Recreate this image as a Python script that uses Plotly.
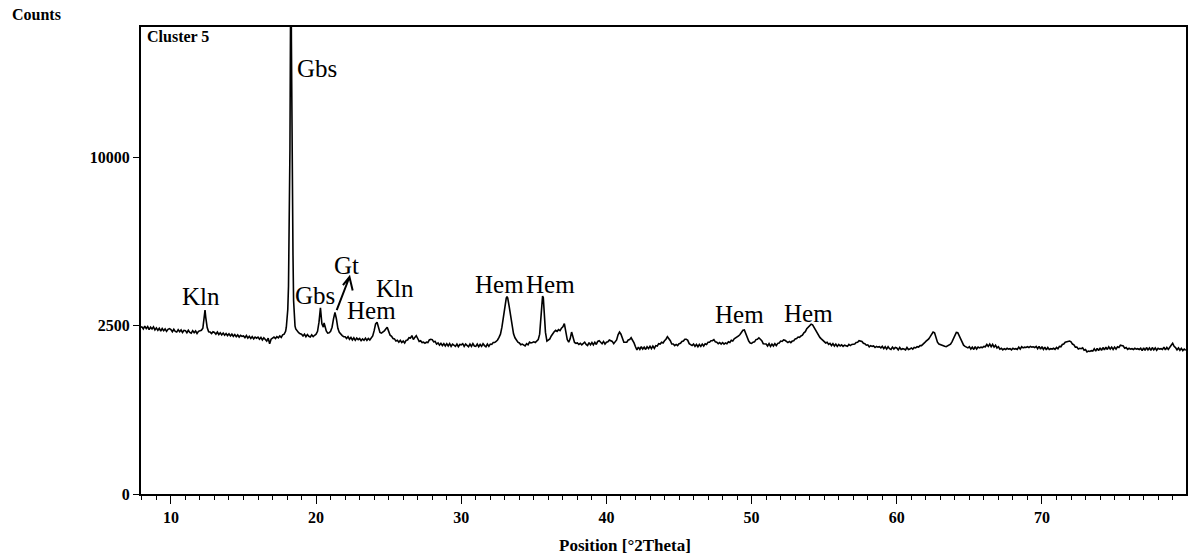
import numpy as np
import plotly.graph_objects as go

# Diffractogram, Cluster 5: position (deg 2Theta) and intensity (counts)
two_theta = [
    7.94,
    8.0, 8.1, 8.2, 8.3, 8.4, 8.5, 8.6, 8.7, 8.8, 8.9,
    9.0, 9.1, 9.2, 9.3, 9.4, 9.5, 9.6, 9.7, 9.8, 9.9,
    10.0, 10.1, 10.2, 10.3, 10.4, 10.5, 10.6, 10.7, 10.8, 10.9,
    11.0, 11.1, 11.2, 11.3, 11.4, 11.5, 11.6, 11.7, 11.8, 11.9,
    12.0, 12.1, 12.2, 12.3, 12.35, 12.4, 12.5, 12.6, 12.7, 12.8, 12.9,
    13.0, 13.1, 13.2, 13.3, 13.4, 13.5, 13.6, 13.7, 13.8, 13.9,
    14.0, 14.1, 14.2, 14.3, 14.4, 14.5, 14.6, 14.7, 14.8, 14.9,
    15.0, 15.1, 15.2, 15.3, 15.4, 15.5, 15.6, 15.7, 15.8, 15.9,
    16.0, 16.1, 16.2, 16.3, 16.4, 16.5, 16.6, 16.7, 16.8, 16.9,
    17.0, 17.1, 17.2, 17.3, 17.4, 17.5, 17.6, 17.7, 17.8, 17.9,
    17.95, 18.0, 18.05, 18.1, 18.13, 18.16, 18.2, 18.24, 18.27, 18.3,
    18.34, 18.38, 18.41, 18.45, 18.5, 18.55, 18.6, 18.7, 18.8, 18.9,
    19.0, 19.1, 19.2, 19.3, 19.4, 19.5, 19.6, 19.7, 19.8, 19.9,
    20.0, 20.1, 20.2, 20.3, 20.35, 20.4, 20.5, 20.55, 20.6, 20.7, 20.8, 20.9,
    21.0, 21.1, 21.2, 21.3, 21.4, 21.5, 21.6, 21.7, 21.8, 21.9,
    22.0, 22.1, 22.2, 22.3, 22.4, 22.5, 22.6, 22.7, 22.8, 22.9,
    23.0, 23.1, 23.2, 23.3, 23.4, 23.5, 23.6, 23.7, 23.8, 23.9,
    24.0, 24.1, 24.2, 24.3, 24.4, 24.5, 24.6, 24.7, 24.8, 24.9,
    25.0, 25.1, 25.2, 25.3, 25.4, 25.5, 25.6, 25.7, 25.8, 25.9,
    26.0, 26.1, 26.2, 26.3, 26.4, 26.5, 26.6, 26.7, 26.8, 26.9,
    27.0, 27.1, 27.2, 27.3, 27.4, 27.5, 27.6, 27.7, 27.8, 27.9,
    28.0, 28.1, 28.2, 28.3, 28.4, 28.5, 28.6, 28.7, 28.8, 28.9,
    29.0, 29.1, 29.2, 29.3, 29.4, 29.5, 29.6, 29.7, 29.8, 29.9,
    30.0, 30.1, 30.2, 30.3, 30.4, 30.5, 30.6, 30.7, 30.8, 30.9,
    31.0, 31.1, 31.2, 31.3, 31.4, 31.5, 31.6, 31.7, 31.8, 31.9,
    32.0, 32.1, 32.2, 32.3, 32.4, 32.5, 32.6, 32.7, 32.8, 32.9,
    33.0, 33.1, 33.15, 33.2, 33.3, 33.4, 33.5, 33.6, 33.7, 33.8, 33.9,
    34.0, 34.1, 34.2, 34.3, 34.4, 34.5, 34.6, 34.7, 34.8, 34.9,
    35.0, 35.1, 35.2, 35.3, 35.4, 35.5, 35.6, 35.65, 35.7, 35.8, 35.9,
    36.0, 36.1, 36.2, 36.3, 36.4, 36.5, 36.6, 36.7, 36.8, 36.9,
    37.0, 37.1, 37.2, 37.3, 37.4, 37.5, 37.6, 37.7, 37.8, 37.9,
    38.0, 38.1, 38.2, 38.3, 38.4, 38.5, 38.6, 38.7, 38.8, 38.9,
    39.0, 39.1, 39.2, 39.3, 39.4, 39.5, 39.6, 39.7, 39.8, 39.9,
    40.0, 40.1, 40.2, 40.3, 40.4, 40.5, 40.6, 40.7, 40.8, 40.9,
    41.0, 41.1, 41.2, 41.3, 41.4, 41.5, 41.6, 41.7, 41.8, 41.9,
    42.0, 42.1, 42.2, 42.3, 42.4, 42.5, 42.6, 42.7, 42.8, 42.9,
    43.0, 43.1, 43.2, 43.3, 43.4, 43.5, 43.6, 43.7, 43.8, 43.9,
    44.0, 44.1, 44.2, 44.3, 44.4, 44.5, 44.6, 44.7, 44.8, 44.9,
    45.0, 45.1, 45.2, 45.3, 45.4, 45.5, 45.6, 45.7, 45.8, 45.9,
    46.0, 46.1, 46.2, 46.3, 46.4, 46.5, 46.6, 46.7, 46.8, 46.9,
    47.0, 47.1, 47.2, 47.3, 47.4, 47.5, 47.6, 47.7, 47.8, 47.9,
    48.0, 48.1, 48.2, 48.3, 48.4, 48.5, 48.6, 48.7, 48.8, 48.9,
    49.0, 49.1, 49.2, 49.3, 49.4, 49.5, 49.6, 49.7, 49.8, 49.9,
    50.0, 50.1, 50.2, 50.3, 50.4, 50.5, 50.6, 50.7, 50.8, 50.9,
    51.0, 51.1, 51.2, 51.3, 51.4, 51.5, 51.6, 51.7, 51.8, 51.9,
    52.0, 52.1, 52.2, 52.3, 52.4, 52.5, 52.6, 52.7, 52.8, 52.9,
    53.0, 53.1, 53.2, 53.3, 53.4, 53.5, 53.6, 53.7, 53.8, 53.9,
    54.0, 54.1, 54.2, 54.3, 54.4, 54.5, 54.6, 54.7, 54.8, 54.9,
    55.0, 55.1, 55.2, 55.3, 55.4, 55.5, 55.6, 55.7, 55.8, 55.9,
    56.0, 56.1, 56.2, 56.3, 56.4, 56.5, 56.6, 56.7, 56.8, 56.9,
    57.0, 57.1, 57.2, 57.3, 57.4, 57.5, 57.6, 57.7, 57.8, 57.9,
    58.0, 58.1, 58.2, 58.3, 58.4, 58.5, 58.6, 58.7, 58.8, 58.9,
    59.0, 59.1, 59.2, 59.3, 59.4, 59.5, 59.6, 59.7, 59.8, 59.9,
    60.0, 60.1, 60.2, 60.3, 60.4, 60.5, 60.6, 60.7, 60.8, 60.9,
    61.0, 61.1, 61.2, 61.3, 61.4, 61.5, 61.6, 61.7, 61.8, 61.9,
    62.0, 62.1, 62.2, 62.3, 62.4, 62.5, 62.6, 62.7, 62.8, 62.9,
    63.0, 63.1, 63.2, 63.3, 63.4, 63.5, 63.6, 63.7, 63.8, 63.9,
    64.0, 64.1, 64.2, 64.3, 64.4, 64.5, 64.6, 64.7, 64.8, 64.9,
    65.0, 65.1, 65.2, 65.3, 65.4, 65.5, 65.6, 65.7, 65.8, 65.9,
    66.0, 66.1, 66.2, 66.3, 66.4, 66.5, 66.6, 66.7, 66.8, 66.9,
    67.0, 67.1, 67.2, 67.3, 67.4, 67.5, 67.6, 67.7, 67.8, 67.9,
    68.0, 68.1, 68.2, 68.3, 68.4, 68.5, 68.6, 68.7, 68.8, 68.9,
    69.0, 69.1, 69.2, 69.3, 69.4, 69.5, 69.6, 69.7, 69.8, 69.9,
    70.0, 70.1, 70.2, 70.3, 70.4, 70.5, 70.6, 70.7, 70.8, 70.9,
    71.0, 71.1, 71.2, 71.3, 71.4, 71.5, 71.6, 71.7, 71.8, 71.9,
    72.0, 72.1, 72.2, 72.3, 72.4, 72.5, 72.6, 72.7, 72.8, 72.9,
    73.0, 73.1, 73.2, 73.3, 73.4, 73.5, 73.6, 73.7, 73.8, 73.9,
    74.0, 74.1, 74.2, 74.3, 74.4, 74.5, 74.6, 74.7, 74.8, 74.9,
    75.0, 75.1, 75.2, 75.3, 75.4, 75.5, 75.6, 75.7, 75.8, 75.9,
    76.0, 76.1, 76.2, 76.3, 76.4, 76.5, 76.6, 76.7, 76.8, 76.9,
    77.0, 77.1, 77.2, 77.3, 77.4, 77.5, 77.6, 77.7, 77.8, 77.9,
    78.0, 78.1, 78.2, 78.3, 78.4, 78.5, 78.6, 78.7, 78.8, 78.9,
    79.0, 79.1, 79.2, 79.3, 79.4, 79.5, 79.6, 79.7, 79.8, 79.9,
]

counts = [
    2450,
    2460, 2400, 2480, 2410, 2470, 2380, 2450, 2400, 2460, 2370,
    2430, 2360, 2420, 2340, 2410, 2350, 2400, 2330, 2390, 2410,
    2380, 2320, 2390, 2330, 2310, 2380, 2320, 2370, 2300, 2360,
    2350, 2290, 2360, 2300, 2280, 2350, 2290, 2340, 2270, 2330,
    2340, 2360, 2420, 2700, 2980, 2750, 2440, 2320, 2310, 2270, 2320,
    2300, 2250, 2310, 2240, 2290, 2230, 2280, 2220, 2270, 2210,
    2260, 2200, 2250, 2190, 2240, 2180, 2230, 2170, 2220, 2190,
    2200, 2150, 2210, 2140, 2190, 2130, 2180, 2120, 2170, 2140,
    2170, 2110, 2160, 2090, 2150, 2100, 2060, 2140, 1990, 2110,
    2140, 2170, 2130, 2180, 2150, 2200, 2160, 2230, 2250, 2330,
    2450, 2650, 3000, 3800, 5000, 7000, 10500, 20000, 26000, 18000,
    9000, 6800, 5000, 3300, 2650, 2480, 2400, 2330, 2290, 2260,
    2250, 2200, 2250, 2180, 2240, 2190, 2170, 2230, 2180, 2220,
    2250, 2330, 2600, 3050, 2800, 2550, 2450, 2580, 2500, 2340, 2280, 2290,
    2330, 2450, 2700, 2900, 2700, 2420, 2300, 2240, 2210, 2180,
    2180, 2130, 2180, 2110, 2160, 2090, 2150, 2080, 2140, 2100,
    2130, 2070, 2120, 2080, 2140, 2080, 2130, 2090, 2160, 2200,
    2350, 2550, 2600, 2420, 2300, 2280, 2300, 2340, 2400, 2450,
    2330, 2220, 2190, 2130, 2120, 2060, 2080, 2030, 2080, 2020,
    2060, 2010, 2080, 2090, 2150, 2140, 2210, 2100, 2160, 2210,
    2130, 2050, 2070, 2020, 2030, 2000, 2030, 2020, 2090, 2110,
    2100, 2040, 2050, 1980, 2010, 1950, 2000, 1940, 1990, 1930,
    1990, 1930, 1990, 1920, 1980, 1950, 1920, 1980, 1910, 1970,
    1960, 1990, 1920, 1980, 1940, 1910, 1980, 1920, 1990, 1930,
    1920, 1980, 1910, 1970, 1920, 1990, 1940, 1910, 1980, 1920,
    1980, 1970, 2020, 2020, 2050, 2090, 2160, 2250, 2450, 2800,
    3150, 3380, 3430, 3380, 3100, 2750, 2450, 2260, 2150, 2080, 2030,
    2010, 1960, 1980, 1950, 1930, 1990, 1960, 2030, 2010, 2020,
    2040, 2020, 2060, 2100, 2250, 2700, 3450, 3400, 2900, 2300, 2060,
    2080, 2120, 2200, 2280, 2320, 2360, 2330, 2380, 2350, 2420,
    2460, 2560, 2300, 2100, 2030, 2120, 2310, 2120, 2020, 2000,
    2010, 1970, 2000, 1960, 1990, 2030, 1970, 1940, 2020, 1960,
    2020, 1960, 2030, 1970, 2050, 2070, 2030, 1990, 2050, 1980,
    2030, 2040, 2090, 2080, 2050, 1990, 2030, 2090, 2230, 2310,
    2250, 2130, 2030, 2030, 2030, 2090, 2100, 2150, 2090, 2010,
    1910, 1830, 1900, 1840, 1910, 1850, 1900, 1840, 1910, 1860,
    1920, 1860, 1930, 1870, 1940, 1930, 1990, 1980, 2030, 2010,
    2070, 2110, 2180, 2130, 2070, 1980, 1980, 1940, 1970, 1940,
    1990, 2000, 2050, 2060, 2110, 2110, 2080, 1990, 1970, 1940,
    1980, 1920, 1970, 1910, 1970, 1920, 1980, 1930, 1990, 1970,
    2030, 2030, 2070, 2070, 2100, 2040, 2030, 1990, 2020, 1980,
    2020, 1980, 2010, 1990, 2040, 2020, 2080, 2060, 2120, 2140,
    2180, 2200, 2240, 2300, 2360, 2370, 2250, 2120, 2060, 2010,
    2000, 2030, 2040, 2100, 2110, 2150, 2120, 2070, 1990, 1980,
    1980, 1930, 1990, 1920, 1980, 1930, 1990, 1940, 2000, 2010,
    2060, 2050, 2090, 2080, 2060, 2020, 2050, 2020, 2060, 2070,
    2120, 2130, 2170, 2160, 2200, 2220, 2290, 2320, 2410, 2450,
    2510, 2540, 2520, 2440, 2350, 2270, 2200, 2160, 2120, 2080,
    2060, 2010, 2030, 1970, 2000, 1940, 1990, 1930, 1980, 1920,
    1970, 1930, 1960, 1920, 1950, 1940, 1920, 1970, 1940, 1970,
    1980, 1980, 2020, 2030, 2070, 2060, 2050, 2000, 1990, 1950,
    1960, 1910, 1940, 1920, 1930, 1890, 1920, 1900, 1910, 1880,
    1920, 1860, 1910, 1850, 1910, 1860, 1840, 1900, 1850, 1890,
    1880, 1830, 1890, 1840, 1860, 1850, 1830, 1890, 1840, 1850,
    1880, 1850, 1890, 1880, 1910, 1900, 1940, 1940, 1990, 2010,
    2050, 2080, 2120, 2180, 2250, 2310, 2290, 2150, 2030, 1980,
    1960, 1950, 1930, 1920, 1910, 1930, 1950, 1980, 2040, 2120,
    2220, 2300, 2290, 2200, 2080, 1990, 1950, 1920, 1900, 1880,
    1910, 1850, 1900, 1840, 1910, 1850, 1900, 1880, 1900, 1890,
    1920, 1910, 1970, 1920, 1980, 1910, 1970, 1900, 1950, 1880,
    1910, 1850, 1870, 1830, 1860, 1840, 1870, 1850, 1860, 1830,
    1870, 1850, 1860, 1840, 1900, 1850, 1910, 1880, 1900, 1890,
    1910, 1890, 1920, 1900, 1910, 1890, 1920, 1860, 1920, 1850,
    1910, 1840, 1900, 1830, 1890, 1840, 1860, 1850, 1870, 1840,
    1890, 1860, 1920, 1910, 1970, 1980, 2030, 2040, 2070, 2060,
    2040, 1980, 1960, 1900, 1900, 1850, 1870, 1860, 1880, 1820,
    1840, 1780, 1800, 1790, 1810, 1800, 1860, 1800, 1870, 1810,
    1880, 1820, 1890, 1830, 1900, 1840, 1910, 1850, 1900, 1840,
    1900, 1850, 1910, 1890, 1950, 1940, 1930, 1870, 1890, 1840,
    1870, 1850, 1860, 1840, 1870, 1850, 1860, 1840, 1870, 1810,
    1880, 1820, 1890, 1830, 1880, 1820, 1890, 1830, 1880, 1820,
    1870, 1850, 1860, 1840, 1900, 1830, 1890, 1840, 1910, 1950,
    2000, 1920, 1890, 1830, 1880, 1820, 1870, 1810, 1850, 1820,
]

# Phase labels: text, 2Theta and counts at the label centre
label_text = ["Kln", "Gbs", "Gbs", "Gt", "Hem", "Kln", "Hem", "Hem", "Hem", "Hem"]
label_pos = [12.04, 20.06, 19.92, 22.09, 23.82, 25.43, 32.60, 36.18, 49.18, 53.93]
label_cnt = [3452, 15977, 3487, 4617, 2981, 3737, 3881, 3881, 2852, 2884]

y_tick_counts = [0, 2500, 10000]
x_range = [7.94, 79.92]
y_top_counts = 19210

SERIF = "Liberation Serif"

# Square-root intensity scale
y_sqrt = np.sqrt(np.array(counts, dtype=float))

fig = go.Figure()
fig.add_trace(go.Scatter(
    x=two_theta, y=y_sqrt, mode="lines",
    line=dict(color="black", width=1.6),
    hoverinfo="skip", showlegend=False,
))

annotations = []
for t, xp, cp in zip(label_text, label_pos, label_cnt):
    annotations.append(dict(
        x=xp, y=float(np.sqrt(cp)), xref="x", yref="y", text=t, showarrow=False,
        xanchor="center", yanchor="middle",
        font=dict(family=SERIF, size=25, color="black"),
    ))

# Plot-area geometry in pixels (for paper-positioned text)
L, T, W, H = 141, 27, 1047, 467


def px_to_paper(px, py):
    return (px - L) / W, (T + H - py) / H


cx, cy = px_to_paper(10, 14)
annotations.append(dict(x=cx, y=cy, xref="paper", yref="paper", text="<b>Counts</b>",
                        showarrow=False, xanchor="left", yanchor="middle",
                        font=dict(family=SERIF, size=16, color="black")))
cx, cy = px_to_paper(145, 36)
annotations.append(dict(x=cx, y=cy, xref="paper", yref="paper", text="<b>Cluster 5</b>",
                        showarrow=False, xanchor="left", yanchor="middle",
                        font=dict(family=SERIF, size=16, color="black")))
cx, cy = px_to_paper(626, 545)
annotations.append(dict(x=cx, y=cy, xref="paper", yref="paper", text="<b>Position [°2Theta]</b>",
                        showarrow=False, xanchor="center", yanchor="middle",
                        font=dict(family=SERIF, size=17, color="black")))

# Arrow pointing from the goethite peak to its label
arrow_path = "M 21.42,54.6 L 22.30,64.4 M 21.85,62.0 L 22.30,64.4 L 22.52,60.4"
shapes = [dict(type="path", xref="x", yref="y", path=arrow_path,
               line=dict(color="black", width=2))]

fig.update_layout(
    width=1190, height=557,
    margin=dict(l=L, r=1190 - L - W, t=T, b=557 - T - H, pad=0),
    paper_bgcolor="white", plot_bgcolor="white",
    annotations=annotations, shapes=shapes,
    xaxis=dict(
        range=x_range, tick0=0, dtick=10, showgrid=False, zeroline=False,
        showline=True, linecolor="black", linewidth=2, mirror=True,
        ticks="outside", ticklen=8, tickwidth=1, tickcolor="black",
        tickfont=dict(family=SERIF, size=16, color="black", weight="bold"),
        minor=dict(dtick=1, ticks="outside", ticklen=4, tickwidth=1, tickcolor="black", showgrid=False),
    ),
    yaxis=dict(
        range=[0, float(np.sqrt(y_top_counts))], showgrid=False, zeroline=False,
        tickvals=[float(np.sqrt(v)) for v in y_tick_counts],
        ticktext=[str(v) for v in y_tick_counts],
        showline=True, linecolor="black", linewidth=2, mirror=True,
        ticks="outside", ticklen=6, tickwidth=1, tickcolor="black",
        tickfont=dict(family=SERIF, size=16, color="black", weight="bold"),
    ),
)

fig.write_html("out.html")
